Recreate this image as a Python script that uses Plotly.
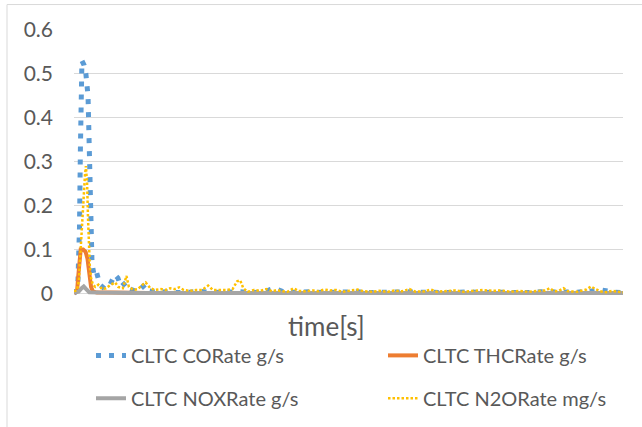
import plotly.graph_objects as go

# ---------------- data ----------------
co_t = [0, 7, 13, 18, 21, 25, 26, 33, 39, 46, 49, 52, 56, 59, 66, 74, 85, 102, 118, 134, 144, 154,
        170, 184, 207, 233, 246, 270, 300, 340, 380, 413, 450, 490, 530, 545, 580, 620, 655, 690,
        730, 770, 810, 850, 890, 930, 970, 1010, 1050, 1090, 1130, 1170, 1210, 1250, 1290, 1330,
        1370, 1410, 1450, 1490, 1530, 1570, 1610, 1650, 1690, 1730, 1770, 1800]
co_v = [0.0, 0.005, 0.03, 0.15, 0.33, 0.45, 0.53, 0.52, 0.50, 0.45, 0.35, 0.22, 0.12, 0.07, 0.04,
        0.048, 0.02, 0.01, 0.02, 0.043, 0.035, 0.015, 0.025, 0.01, 0.004, 0.02, 0.006, 0.003, 0.004,
        0.002, 0.003, 0.005, 0.002, 0.003, 0.002, 0.004, 0.002, 0.003, 0.012, 0.003, 0.002, 0.004,
        0.002, 0.003, 0.002, 0.004, 0.002, 0.003, 0.002, 0.004, 0.003, 0.002, 0.003, 0.002, 0.004,
        0.002, 0.003, 0.002, 0.003, 0.002, 0.004, 0.003, 0.002, 0.003, 0.005, 0.008, 0.003, 0.002]

thc_t = [0, 10, 14, 18, 22, 30, 38, 44, 50, 56, 62, 75, 120, 240, 600, 1000, 1400, 1800]
thc_v = [0.0, 0.005, 0.04, 0.09, 0.10, 0.10, 0.095, 0.08, 0.04, 0.015, 0.005, 0.002, 0.002,
         0.001, 0.001, 0.001, 0.001, 0.001]

nox_t = [0, 15, 25, 32, 40, 50, 80, 200, 500, 900, 1300, 1800]
nox_v = [0.002, 0.004, 0.012, 0.016, 0.01, 0.003, 0.002, 0.001, 0.001, 0.001, 0.001, 0.001]

n2o_t = [0, 10, 16, 20, 25, 30, 36, 39, 43, 46, 49, 52, 56, 62, 70, 80, 92, 105, 120, 135, 145,
         160, 172, 180, 195, 210, 225, 235, 250, 265, 285, 300, 315, 330, 345, 360, 380, 400, 420,
         440, 455, 475, 500, 520, 535, 545, 555, 570, 590, 610, 630, 650, 665, 680, 700, 720, 735,
         760, 785, 800, 820, 840, 860, 880, 900, 930, 950, 980, 1000, 1030, 1050, 1075, 1100, 1120,
         1150, 1170, 1190, 1220, 1250, 1280, 1310, 1340, 1370, 1400, 1430, 1460, 1490, 1520, 1545,
         1560, 1575, 1590, 1605, 1620, 1650, 1680, 1695, 1710, 1725, 1745, 1765, 1780, 1800]
n2o_v = [0.005, 0.008, 0.03, 0.08, 0.15, 0.22, 0.27, 0.29, 0.25, 0.17, 0.10, 0.06, 0.035, 0.02,
         0.015, 0.02, 0.01, 0.012, 0.02, 0.025, 0.015, 0.012, 0.04, 0.015, 0.008, 0.01, 0.02, 0.025,
         0.012, 0.008, 0.01, 0.008, 0.012, 0.01, 0.014, 0.008, 0.006, 0.008, 0.008, 0.018, 0.008,
         0.008, 0.008, 0.01, 0.028, 0.03, 0.012, 0.004, 0.008, 0.006, 0.01, 0.005, 0.008, 0.005,
         0.004, 0.012, 0.006, 0.005, 0.007, 0.005, 0.009, 0.007, 0.008, 0.004, 0.006, 0.009, 0.005,
         0.004, 0.006, 0.004, 0.007, 0.005, 0.01, 0.004, 0.005, 0.009, 0.004, 0.005, 0.007, 0.004,
         0.006, 0.008, 0.006, 0.007, 0.004, 0.006, 0.004, 0.005, 0.007, 0.012, 0.005, 0.006, 0.012,
         0.005, 0.004, 0.009, 0.016, 0.01, 0.005, 0.003, 0.006, 0.004, 0.003]

names = ["CLTC CORate g/s", "CLTC THCRate g/s", "CLTC NOXRate g/s", "CLTC N2ORate mg/s"]
y_ticks = [0, 0.1, 0.2, 0.3, 0.4, 0.5, 0.6]
x_title = "time[s]"

# ---------------- figure ----------------
W, H = 642, 427
L, R, T, B = 74, 19, 30, 129.5
FONT = "Lato, 'Open Sans', sans-serif"
TXT = "#595959"

plot_h = H - T - B
def px_x(p):
    return (p - L) / (W - L - R)
def px_y(p):
    return (H - B - p) / plot_h

fig = go.Figure()
fig.add_trace(go.Scatter(x=co_t, y=co_v, mode="lines", name=names[0], legend="legend",
                         line=dict(color="#5B9BD5", width=5, dash="5px,8px")))
fig.add_trace(go.Scatter(x=thc_t, y=thc_v, mode="lines", name=names[1], legend="legend2",
                         line=dict(color="#ED7D31", width=4)))
fig.add_trace(go.Scatter(x=nox_t, y=nox_v, mode="lines", name=names[2], legend="legend3",
                         line=dict(color="#A5A5A5", width=4)))
fig.add_trace(go.Scatter(x=n2o_t, y=n2o_v, mode="lines", name=names[3], legend="legend4",
                         line=dict(color="#FFC000", width=2.5, dash="2.5px,2px")))

def leg(text_left_px, yc_px):
    return dict(orientation="h", xanchor="left", yanchor="middle", bgcolor="rgba(0,0,0,0)",
                x=px_x(text_left_px - 42), y=px_y(yc_px),
                font=dict(family=FONT, size=20, color=TXT))

fig.update_layout(
    width=W, height=H,
    showlegend=True,
    margin=dict(l=L, r=R, t=T, b=B, autoexpand=False),
    paper_bgcolor="white", plot_bgcolor="white",
    font=dict(family=FONT, color=TXT),
    xaxis=dict(range=[0, 1800], showgrid=False, zeroline=False, showticklabels=False,
               showline=False, ticks="", automargin=False),
    yaxis=dict(range=[-0.008, 0.6], tickvals=y_ticks, ticktext=[f"{v:g}" for v in y_ticks],
               showgrid=True, gridcolor="#D9D9D9", gridwidth=1, zeroline=False, showline=False,
               ticks="", ticklabelstandoff=20, automargin=False,
               tickfont=dict(family=FONT, size=21, color=TXT)),
    legend=leg(133, 356),
    legend2=leg(425, 356),
    legend3=leg(133, 399),
    legend4=leg(425, 399),
    annotations=[dict(text=x_title, xref="paper", yref="paper", x=px_x(326), y=px_y(327),
                      xanchor="center", yanchor="middle", showarrow=False,
                      font=dict(family=FONT, size=26, color=TXT))],
    shapes=[dict(type="rect", xref="paper", yref="paper", x0=px_x(7), x1=px_x(700),
                 y0=px_y(500), y1=px_y(4.5), line=dict(color="#D9D9D9", width=1),
                 fillcolor="rgba(0,0,0,0)", layer="below")],
)

fig.write_html("out.html", config={"displayModeBar": False},
               post_script="document.body.style.margin='0px';document.body.style.overflow='hidden';")
